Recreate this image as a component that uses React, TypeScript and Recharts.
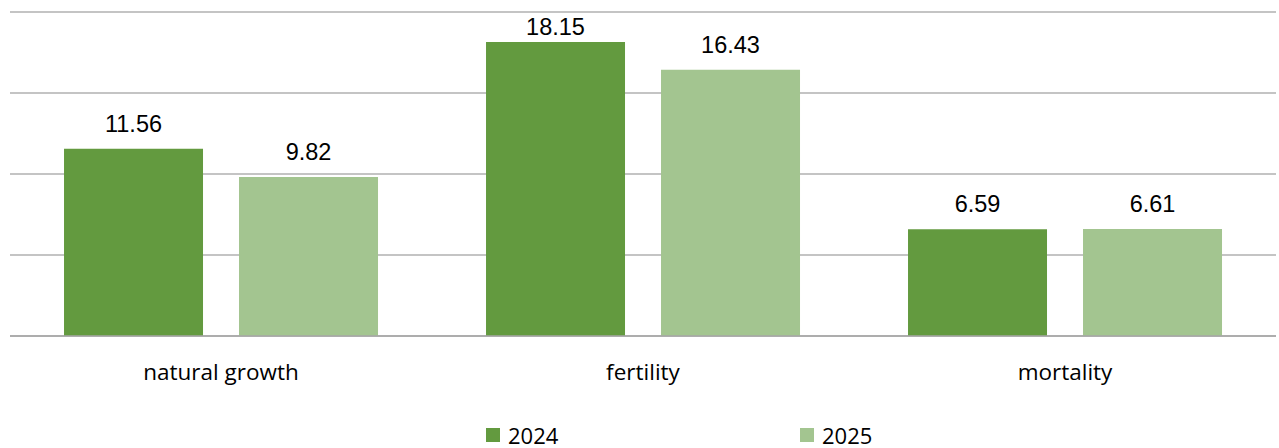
import React from "react";
import {
	BarChart,
	Bar,
	XAxis,
	YAxis,
	CartesianGrid,
	Legend,
	LabelList,
} from "recharts";

const categories = ["natural growth", "fertility", "mortality"];
const values2024 = [11.56, 18.15, 6.59];
const values2025 = [9.82, 16.43, 6.61];
const yTicks = [0, 5, 10, 15, 20];

const COLOR_2024 = "#639a3f";
const COLOR_2025 = "#a3c590";

// labels sit 17px above the bar, but never above the chart area (like Excel)
const LABEL_GAP = 17;
const LABEL_MIN_BASELINE = 35;

const data = categories.map((name, i) => ({
	name,
	y2024: values2024[i],
	y2025: values2025[i],
}));

function BarLabel(props: any) {
	const { x, y, width, value } = props;
	const baseline = Math.max(Number(y) - LABEL_GAP, LABEL_MIN_BASELINE);
	return (
		<text
			x={Number(x) + Number(width) / 2}
			y={baseline}
			textAnchor="middle"
			fill="#000"
			fontSize={23.5}
			fontFamily="'Liberation Sans', Arial, sans-serif"
		>
			{value}
		</text>
	);
}

function LegendContent() {
	const items = [
		{ label: "2024", color: COLOR_2024 },
		{ label: "2025", color: COLOR_2025 },
	];
	return (
		<div style={{ position: "relative", height: 32, width: 1269 }}>
			{items.map((it, i) => (
				<div
					key={it.label}
					style={{
						position: "absolute",
						left: 476 + i * 314,
						top: 8,
						display: "flex",
						alignItems: "center",
						fontFamily: "'Open Sans', sans-serif",
						fontSize: 22,
						color: "#000",
						lineHeight: "22px",
						height: 22,
					}}
				>
					<span
						style={{
							display: "inline-block",
							width: 14,
							height: 14,
							background: it.color,
							marginRight: 8,
						}}
					/>
					{it.label}
				</div>
			))}
		</div>
	);
}

export default function App() {
	return (
		<div style={{ position: "absolute", left: 0, top: 0, background: "#fff" }}>
			<BarChart
				width={1279}
				height={448}
				data={data}
				margin={{ top: 12, right: 3, left: 10, bottom: 0 }}
				barCategoryGap="12.8%"
				barGap={36}
			>
				<CartesianGrid vertical={false} stroke="#b0b0b0" strokeWidth={1.3} />
				<XAxis
					dataKey="name"
					height={80}
					tickLine={false}
					axisLine={{ stroke: "#a6a6a6", strokeWidth: 1.5 }}
					tickMargin={22}
					tick={{ fontSize: 22.5, fill: "#000", fontFamily: "'Open Sans', sans-serif" }}
				/>
				<YAxis hide domain={[0, 20]} ticks={yTicks} />
				<Legend verticalAlign="bottom" height={32} content={<LegendContent />} />
				<Bar dataKey="y2024" fill={COLOR_2024} isAnimationActive={false}>
					<LabelList dataKey="y2024" content={<BarLabel />} />
				</Bar>
				<Bar dataKey="y2025" fill={COLOR_2025} isAnimationActive={false}>
					<LabelList dataKey="y2025" content={<BarLabel />} />
				</Bar>
			</BarChart>
		</div>
	);
}
